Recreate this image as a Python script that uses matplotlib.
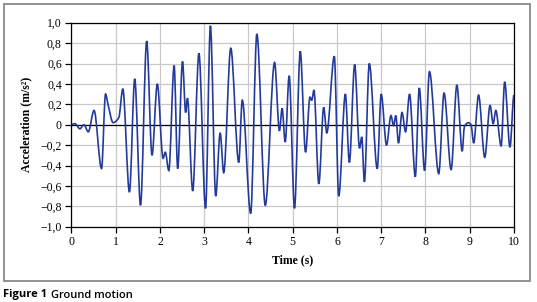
import numpy as np
import matplotlib.pyplot as plt
from matplotlib.path import Path
from matplotlib.patches import PathPatch, Rectangle

# Ground motion record, peaks/troughs
time_s = [0.0, 0.08, 0.19, 0.28, 0.38, 0.51, 0.68, 0.77, 0.83, 0.94, 1.07, 1.16,
          1.31, 1.43, 1.56, 1.70, 1.82, 1.94, 2.07, 2.12, 2.20, 2.32, 2.40, 2.51,
          2.58, 2.62, 2.74, 2.88, 3.03, 3.14, 3.26, 3.36, 3.44, 3.60, 3.78, 3.86,
          4.05, 4.19, 4.38, 4.59, 4.70, 4.76, 4.83, 4.92, 5.04, 5.17, 5.29, 5.39,
          5.43, 5.48, 5.59, 5.70, 5.77, 5.94, 6.04, 6.19, 6.28, 6.40, 6.51, 6.56,
          6.62, 6.73, 6.91, 7.00, 7.12, 7.22, 7.28, 7.33, 7.39, 7.47, 7.55, 7.64,
          7.77, 7.86, 7.98, 8.09, 8.30, 8.42, 8.58, 8.71, 8.83, 8.88, 8.97, 9.03,
          9.09, 9.20, 9.34, 9.46, 9.53, 9.59, 9.71, 9.79, 9.91, 10.0]
accel = [0.0, 0.01, -0.04, 0.0, -0.07, 0.14, -0.43, 0.30, 0.19, 0.02, 0.07, 0.35,
         -0.66, 0.45, -0.79, 0.82, -0.30, 0.40, -0.33, -0.27, -0.45, 0.58, -0.43, 0.62,
         0.12, 0.26, -0.65, 0.70, -0.82, 0.97, -0.70, -0.08, -0.47, 0.75, -0.37, 0.24,
         -0.87, 0.89, -0.79, 0.61, -0.06, 0.16, -0.17, 0.48, -0.82, 0.72, -0.27, 0.27,
         0.24, 0.34, -0.58, 0.17, -0.08, 0.67, -0.70, 0.30, -0.37, 0.59, -0.23, -0.12,
         -0.56, 0.60, -0.43, 0.30, -0.20, 0.09, -0.01, 0.09, -0.18, 0.12, -0.07, 0.30,
         -0.51, 0.36, -0.45, 0.52, -0.48, 0.31, -0.44, 0.39, -0.26, -0.02, 0.02, 0.0,
         -0.18, 0.29, -0.32, 0.19, 0.01, 0.14, -0.21, 0.42, -0.22, 0.29]

x_ticks = list(range(0, 11))
y_ticks = [1.0, 0.8, 0.6, 0.4, 0.2, 0.0, -0.2, -0.4, -0.6, -0.8, -1.0]
y_labels = ['1,0', '0,8', '0,6', '0,4', '0,2', '0', '\u22120,2', '\u22120,4',
            '\u22120,6', '\u22120,8', '\u22121,0']


def smooth_path(xs, ys):
    # smoothed line like the spreadsheet: cubic Bezier segments, monotone tangents
    x = np.asarray(xs, float)
    y = np.asarray(ys, float)
    h = np.diff(x)
    d = np.diff(y) / h
    m = np.zeros_like(y)
    for k in range(1, len(x) - 1):
        if d[k - 1] * d[k] > 0:
            w1 = 2 * h[k] + h[k - 1]
            w2 = h[k] + 2 * h[k - 1]
            m[k] = (w1 + w2) / (w1 / d[k - 1] + w2 / d[k])
    m[0] = d[0]
    verts = [(x[0], y[0])]
    codes = [Path.MOVETO]
    for k in range(len(x) - 1):
        dx = h[k] / 3
        verts += [(x[k] + dx, y[k] + m[k] * dx),
                  (x[k + 1] - dx, y[k + 1] - m[k + 1] * dx),
                  (x[k + 1], y[k + 1])]
        codes += [Path.CURVE4] * 3
    return Path(verts, codes)


serif = ['Liberation Serif', 'DejaVu Serif']
sans = ['Open Sans', 'DejaVu Sans']

fig = plt.figure(figsize=(5.37, 3.02), dpi=100)
ax = fig.add_axes([0.1331, 0.2493, 0.8240, 0.6755])

ax.set_xlim(0, 10)
ax.set_ylim(-1.0, 1.0)
ax.set_xticks(x_ticks)
ax.set_xticklabels([str(v) for v in x_ticks], fontfamily=serif, fontsize=8.5)
ax.set_yticks(y_ticks)
ax.set_yticklabels(y_labels, fontfamily=serif, fontsize=8.5)
ax.tick_params(direction='out', length=4, width=0.9, color='black', pad=3)

ax.grid(True, color='#c8c8c8', linewidth=0.9)
ax.set_axisbelow(True)
for s in ax.spines.values():
    s.set_color('black')
    s.set_linewidth(0.9)
ax.axhline(0, color='black', linewidth=0.9, zorder=2)

ax.add_patch(PathPatch(smooth_path(time_s, accel), fill=False,
                       edgecolor='#233a9a', linewidth=1.2, zorder=3))

ax.set_xlabel('Time (s)', fontfamily=serif, fontsize=8.5, fontweight='bold', labelpad=4)
ax.set_ylabel('Acceleration (m/s\u00b2)', fontfamily=serif, fontsize=8.5,
              fontweight='bold', labelpad=6)

# outer frame and caption
fig.patches.append(Rectangle((3.5 / 537, 1 - 280.5 / 302), 526.5 / 537, 276.5 / 302,
                             transform=fig.transFigure, fill=False,
                             edgecolor='#7f7f7f', linewidth=1.2))
t1 = fig.text(3 / 537, 1 - 295 / 302, 'Figure 1', fontfamily=sans,
              fontsize=8, fontweight='bold', va='center', ha='left')
fig.canvas.draw()
bb = t1.get_window_extent()
fig.text((bb.x1 + 4) / 537, 1 - 295 / 302, 'Ground motion', fontfamily=sans,
         fontsize=8, fontweight='semibold', va='center', ha='left')

fig.savefig('out.png', dpi=100)
